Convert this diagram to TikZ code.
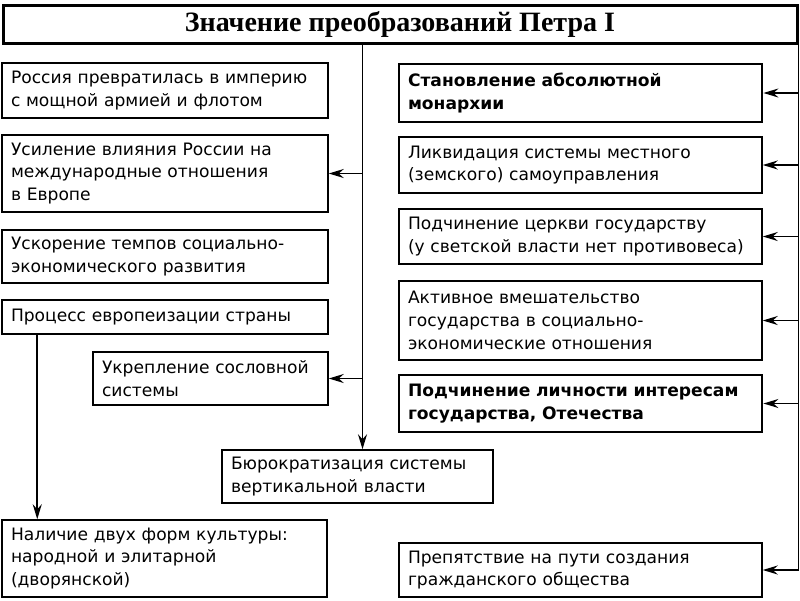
\documentclass[tikz,border=0pt]{standalone}
\usepackage{fontspec}
\setmainfont{Liberation Serif}
\newfontfamily\bodyfont{DejaVu Sans}
\usetikzlibrary{arrows.meta,calc}
\tikzset{
  box/.style={draw=black, line width=1.5pt, rectangle, inner xsep=9pt, inner ysep=0pt,
    align=left, font=\bodyfont\fontsize{17.1}{22.8}\selectfont},
  thickbox/.style={box, line width=2.8pt, font=\bodyfont\bfseries\fontsize{17.1}{22.8}\selectfont},
  conn/.style={line width=1.6pt, -{Stealth[length=15pt,width=9pt,inset=5pt]}},
  plain/.style={line width=1.6pt}
}
\newcommand{\bx}[7]{% style, name, x1, y1, x2, y2, text
  \node[#1, minimum width={#5-#3}, minimum height={#6-#4}, text width={#5-#3-18}]
    (#2) at ({(#3+#5)/2},{(#4+#6)/2}) {#7};}
\begin{document}
\begin{tikzpicture}[x=1pt,y=-1pt]
\useasboundingbox (0,0) rectangle (800,600);
\node[draw, line width=3pt, minimum width=794, minimum height=38, inner sep=0pt,
  font=\bfseries\fontsize{28}{30}\selectfont] (title) at (400,24) {Значение преобразований Петра I};
% left column
\bx{box}{L1}{2}{63}{328}{118}{Россия превратилась в империю\\с мощной армией и флотом}
\bx{box}{L2}{2}{135}{328}{212}{Усиление влияния России на\\международные отношения\\в Европе}
\bx{box}{L3}{2}{230}{328}{283}{Ускорение темпов социально-\\экономического развития}
\bx{box}{L4}{2}{300}{328}{334}{Процесс европеизации страны}
\bx{box}{L5}{93}{352}{328}{405}{Укрепление сословной\\системы}
\bx{box}{L6}{222}{450}{493}{503}{Бюрократизация системы\\вертикальной власти}
\bx{box}{L7}{2}{520}{327}{597}{Наличие двух форм культуры:\\народной и элитарной\\(дворянской)}
% right column
\bx{thickbox}{R1}{399}{64}{762}{122}{Становление абсолютной\\монархии}
\bx{box}{R2}{399}{137}{762}{193}{Ликвидация системы местного\\(земского) самоуправления}
\bx{box}{R3}{399}{209}{762}{264}{Подчинение церкви государству\\(у светской власти нет противовеса)}
\bx{box}{R4}{399}{281}{762}{360}{Активное вмешательство\\государства в социально-\\экономические отношения}
\bx{thickbox}{R5}{399}{375}{762}{432}{Подчинение личности интересам\\государства, Отечества}
\bx{box}{R6}{399}{543}{762}{597}{Препятствие на пути создания\\гражданского общества}
% connectors
\coordinate (ctop) at ($(title.south west)+(361,0)$);
\coordinate (rtop) at (title.south east);
\coordinate (lsrc) at ($(L4.south west)+(36,0)$);
\draw[conn] (ctop) -- (ctop |- L6.north);
\draw[conn] (ctop |- L2.east) -- (L2.east);
\draw[conn] (ctop |- L5.east) -- (L5.east);
\draw[plain] (rtop) -- (rtop |- R6.east);
\draw[conn] (rtop |- R6.east) -- (R6.east);
\foreach \r in {R1,R2,R3,R4,R5}{\draw[conn] (rtop |- \r.east) -- (\r.east);}
\draw[conn] (lsrc) -- (lsrc |- L7.north);
\end{tikzpicture}
\end{document}
